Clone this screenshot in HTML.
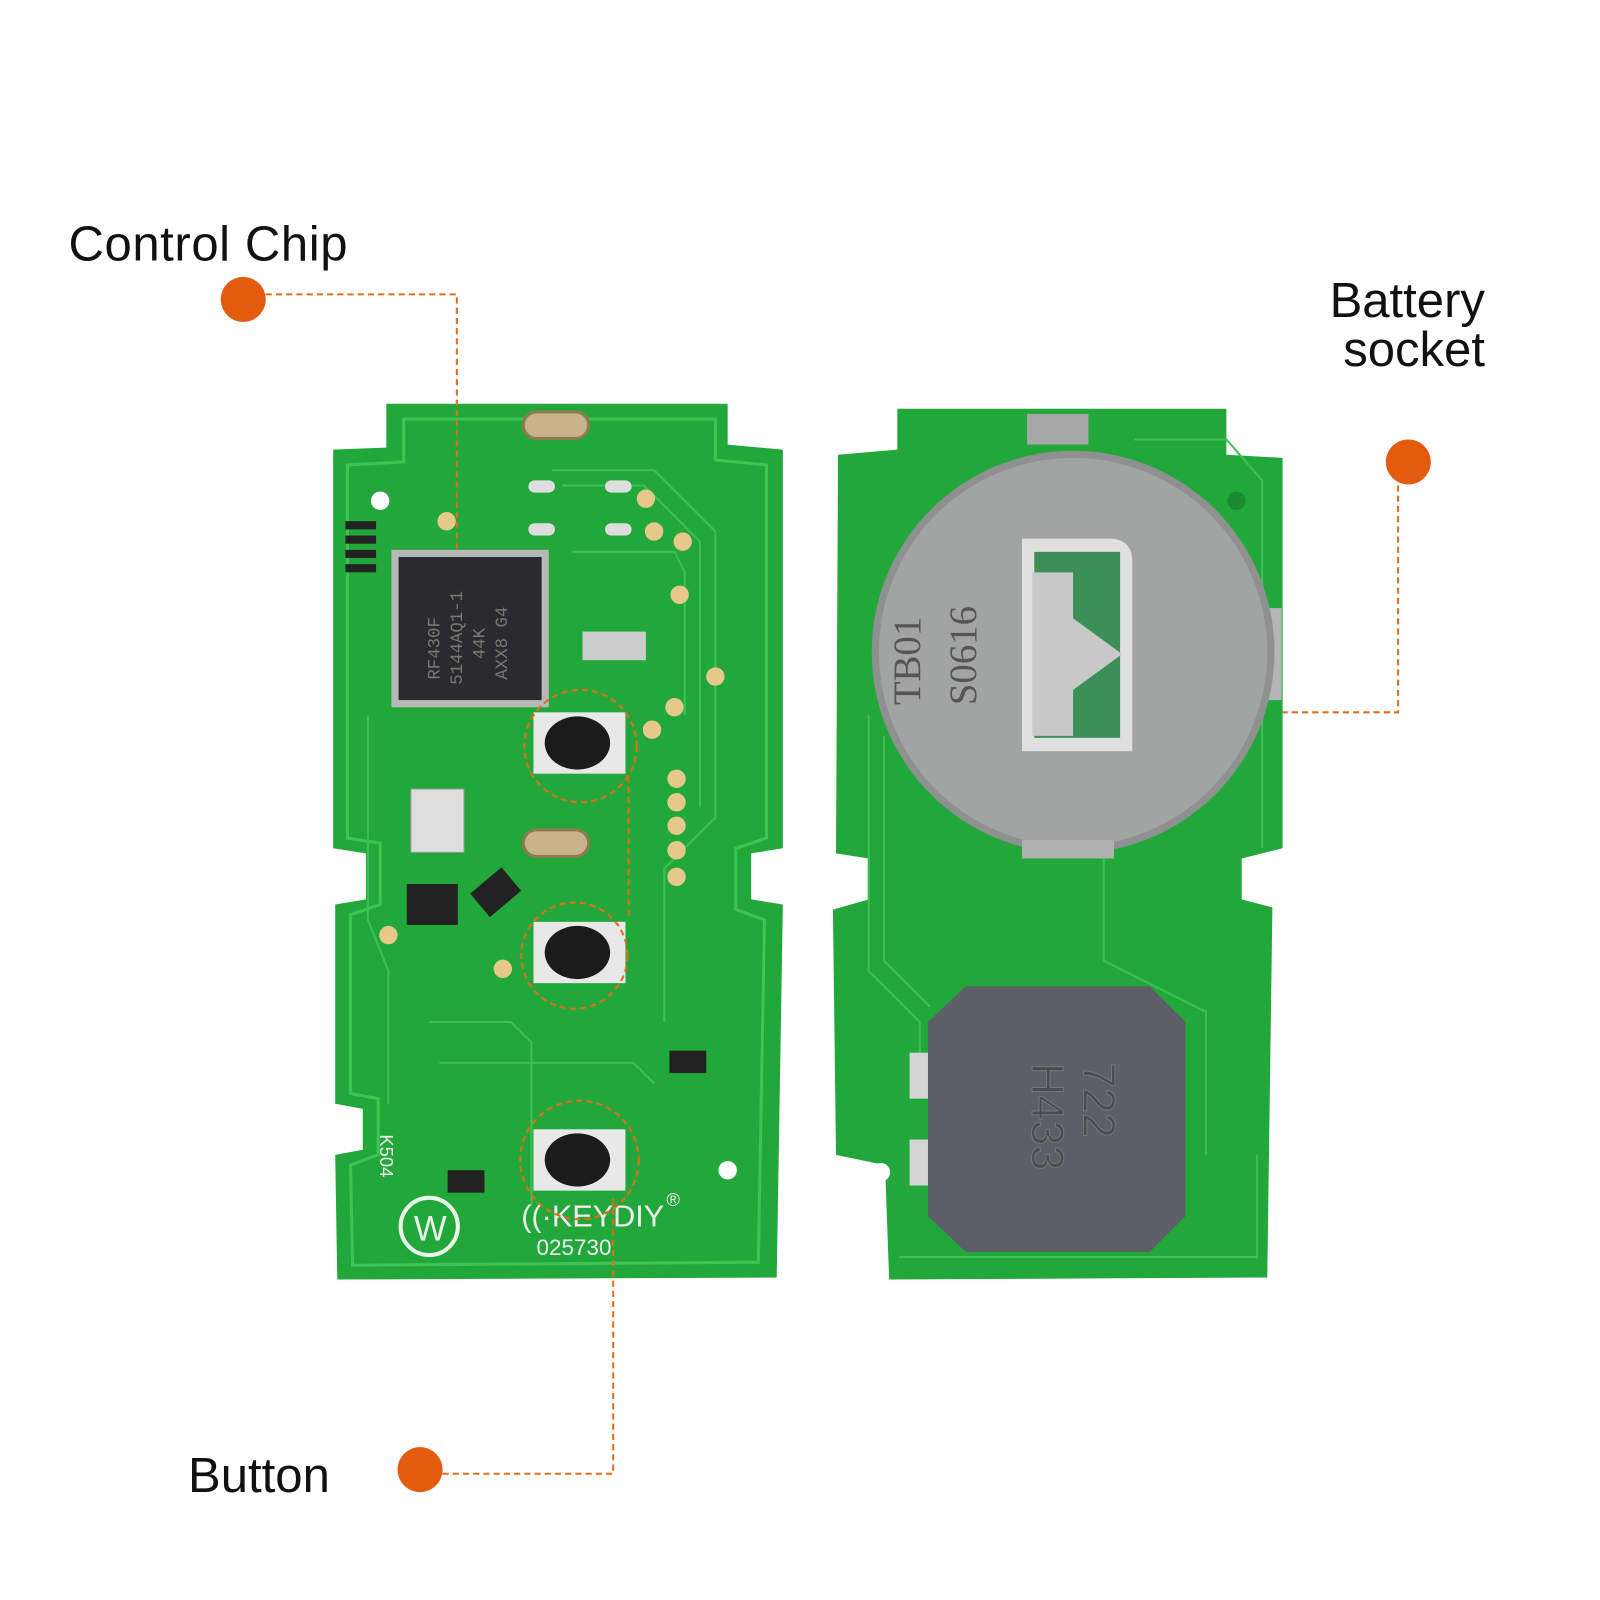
<!DOCTYPE html>
<html><head><meta charset="utf-8"><style>
html,body{margin:0;padding:0;background:#fff;width:1600px;height:1600px;overflow:hidden}
text{font-family:"Liberation Sans",sans-serif}
</style></head><body>
<svg width="1600" height="1600" viewBox="0 0 1600 1600" xmlns="http://www.w3.org/2000/svg">
<rect width="1600" height="1600" fill="#fff"/>
<g transform="scale(1.022)">
<polygon points="378,395 712,395 712,435 766,440 766,830 735,835 735,880 766,885 760,1250 330,1252 328,1130 355,1125 355,1085 328,1080 328,885 358,880 358,835 326,830 326,440 378,438" fill="#22a83a"/>
<polygon points="395,410 700,410 700,450 750,455 750,820 720,830 720,890 748,900 742,1235 345,1238 343,1140 370,1130 370,1075 343,1070 343,895 372,885 372,825 340,820 340,455 395,452" fill="none" stroke="#3cc454" stroke-width="3"/>
<g stroke="#3ec057" stroke-width="2" fill="none">
<path d="M540,460 L640,460 L700,520 L700,800 L650,850 L650,1000"/>
<path d="M550,475 L630,475 L685,530 L685,790"/>
<path d="M560,540 L660,540 L670,560 L670,700"/>
<path d="M420,1000 L500,1000 L520,1020 L520,1180"/>
<path d="M360,700 L360,900 L380,950 L380,1080"/>
<path d="M430,1040 L620,1040 L640,1060"/>
</g>
<rect x="512" y="403" width="64" height="26" rx="13" fill="#c8b48a" stroke="#8d7a50" stroke-width="3"/>
<rect x="512" y="812" width="64" height="26" rx="13" fill="#c8b48a" stroke="#8d7a50" stroke-width="3"/>
<rect x="383" y="538" width="154" height="154" fill="#b8b8b8"/>
<rect x="390" y="545" width="140" height="140" fill="#2b2b2d"/>
<g transform="translate(460,615) rotate(-90)" fill="#777" font-size="17">
<text x="-50" y="-30" style="font-family:'Liberation Mono',monospace">RF430F</text>
<text x="-55" y="-8" style="font-family:'Liberation Mono',monospace">5144AQ1-1</text>
<text x="-30" y="14" style="font-family:'Liberation Mono',monospace">44K</text>
<text x="-50" y="36" style="font-family:'Liberation Mono',monospace">AXX8 G4</text>
</g>
<g fill="#e6c98a">
<circle cx="632" cy="488" r="9"/><circle cx="640" cy="520" r="9"/><circle cx="668" cy="530" r="9"/>
<circle cx="665" cy="582" r="9"/><circle cx="700" cy="662" r="9"/><circle cx="660" cy="692" r="9"/>
<circle cx="638" cy="714" r="9"/><circle cx="662" cy="762" r="9"/><circle cx="662" cy="785" r="9"/>
<circle cx="662" cy="808" r="9"/><circle cx="662" cy="832" r="9"/><circle cx="662" cy="858" r="9"/>
<circle cx="437" cy="510" r="9"/><circle cx="380" cy="915" r="9"/><circle cx="492" cy="948" r="9"/>
</g>
<g fill="#ddd">
<rect x="517" y="470" width="26" height="12" rx="6"/><rect x="592" y="470" width="26" height="12" rx="6"/>
<rect x="517" y="512" width="26" height="12" rx="6"/><rect x="592" y="512" width="26" height="12" rx="6"/>
<rect x="570" y="618" width="62" height="28" fill="#ccc"/>
<rect x="402" y="772" width="52" height="62" fill="#ddd" stroke="#999"/>
</g>
<circle cx="372" cy="490" r="9" fill="#fff"/><circle cx="712" cy="1145" r="9" fill="#fff"/>
<g fill="#222">
<rect x="338" y="510" width="30" height="8"/><rect x="338" y="524" width="30" height="8"/><rect x="338" y="538" width="30" height="8"/><rect x="338" y="552" width="30" height="8"/>
<rect x="398" y="865" width="50" height="40"/>
<rect x="465" y="858" width="40" height="30" transform="rotate(-40 485 873)"/>
<rect x="655" y="1028" width="36" height="22"/>
<rect x="438" y="1145" width="36" height="22"/>
</g>
<g>
<rect x="522" y="697" width="90" height="60" fill="#e8e8e8"/><ellipse cx="565" cy="727" rx="32" ry="26" fill="#1b1b1b"/>
<rect x="522" y="902" width="90" height="60" fill="#e8e8e8"/><ellipse cx="565" cy="932" rx="32" ry="26" fill="#1b1b1b"/>
<rect x="522" y="1105" width="90" height="60" fill="#e8e8e8"/><ellipse cx="565" cy="1135" rx="32" ry="26" fill="#1b1b1b"/>
</g>
<circle cx="420" cy="1200" r="28" fill="none" stroke="#e8f5e8" stroke-width="4"/>
<text x="405" y="1214" font-size="34" fill="#e8f5e8">W</text>
<text x="510" y="1200" font-size="30" fill="#eee">((·KEYDIY</text>
<text x="652" y="1180" font-size="18" fill="#eee">®</text>
<text x="525" y="1228" font-size="22" fill="#eee">025730</text>
<text transform="translate(372,1110) rotate(90)" font-size="18" fill="#eee">K504</text>
<polygon points="878,400 1200,400 1200,445 1255,448 1255,830 1215,840 1215,880 1245,888 1240,1250 870,1252 866,1140 818,1130 815,890 850,880 850,840 818,835 820,445 878,440" fill="#22a83a"/>
<g stroke="#3ec057" stroke-width="2" fill="none">
<path d="M850,700 L850,950 L900,1000 L900,1070"/><path d="M865,720 L865,940 L910,985"/>
<path d="M1080,840 L1080,940 L1180,990 L1180,1130"/><path d="M1110,430 L1200,430 L1235,470 L1235,830"/>
<path d="M880,1230 L1230,1230 L1230,1130"/>
</g>
<rect x="1005" y="405" width="60" height="30" fill="#a8a8a8"/>
<rect x="1240" y="595" width="14" height="90" fill="#b5b5b5"/>
<circle cx="1050" cy="638" r="197" fill="#8f9090"/>
<circle cx="1050" cy="638" r="190" fill="#a2a3a3"/>
<rect x="1000" y="822" width="90" height="18" fill="#b0b0b0"/>
<path d="M1000,527 L1085,527 Q1108,527 1108,550 L1108,735 L1000,735 Z" fill="#e0e0e0"/>
<rect x="1012" y="540" width="84" height="182" fill="#3d8f58"/>
<path d="M1010,560 L1050,560 L1050,605 L1098,640 L1050,675 L1050,720 L1010,720 Z" fill="#c8c8c8"/>
<text transform="translate(900,690) rotate(-90)" font-size="38" fill="#555" style="font-family:'Liberation Serif',serif">TB01</text>
<text transform="translate(955,690) rotate(-90)" font-size="38" fill="#555" style="font-family:'Liberation Serif',serif">S0616</text>
<rect x="890" y="1030" width="25" height="45" fill="#d5d5d5"/>
<rect x="890" y="1115" width="25" height="45" fill="#d5d5d5"/>
<polygon points="945,965 1125,965 1160,1000 1160,1190 1125,1225 945,1225 908,1190 908,1000" fill="#5c5f68"/>
<text transform="translate(1060,1040) rotate(90)" font-size="44" fill="#4a4c55" stroke="#777" stroke-width="1">722</text>
<text transform="translate(1010,1040) rotate(90)" font-size="44" fill="#4a4c55" stroke="#777" stroke-width="1">H433</text>
<circle cx="862" cy="1147" r="9" fill="#fff"/><circle cx="1210" cy="490" r="9" fill="#1c8a30"/>
<g stroke="#e46a1d" stroke-width="2" stroke-dasharray="6,4" fill="none">
<path d="M260,288 L447,288 L447,540"/>
<path d="M1368,475 L1368,697 L1255,697"/>
<path d="M433,1442 L600,1442 L600,1170"/>
<path d="M615,760 L615,900"/>
<circle cx="568" cy="730" r="55"/><circle cx="562" cy="935" r="52"/><circle cx="567" cy="1135" r="58"/>
</g>
<g fill="#e35b0d">
<circle cx="238" cy="293" r="22"/><circle cx="1378" cy="452" r="22"/><circle cx="411" cy="1438" r="22"/>
</g>
<g fill="#111" font-size="48">
<text x="67" y="255" textLength="273">Control Chip</text>
<text x="1453" y="310" text-anchor="end">Battery</text>
<text x="1453" y="358" text-anchor="end">socket</text>
<text x="184" y="1460">Button</text>
</g>
</g>
</svg>
</body></html>
